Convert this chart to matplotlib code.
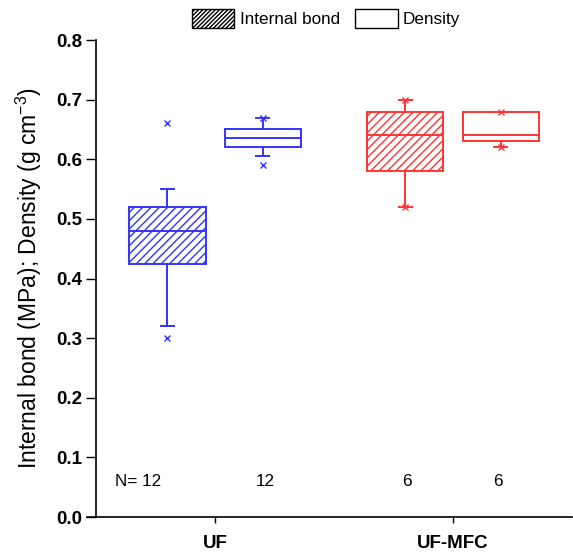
import matplotlib.pyplot as plt
from matplotlib.patches import Patch

plt.rcParams['font.family'] = ['Liberation Sans', 'DejaVu Sans']
plt.rcParams['mathtext.default'] = 'regular'
plt.rcParams['hatch.linewidth'] = 1.0

# =============================
# DATOS
# =============================
grupos = ["UF", "UF-MFC"]
series = ["Internal bond", "Density"]

# whislo, q1, med, q3, whishi
ib_cajas = [[0.32, 0.425, 0.48, 0.52, 0.55],
            [0.52, 0.58, 0.64, 0.68, 0.70]]
den_cajas = [[0.605, 0.62, 0.635, 0.65, 0.67],
             [0.62, 0.63, 0.64, 0.68, 0.68]]

# minimo / maximo (marcas x)
ib_extremos = [[0.30, 0.66], [0.52, 0.70]]
den_extremos = [[0.59, 0.67], [0.62, 0.68]]

n_ib = [12, 6]
n_den = [12, 6]

colores = ["#3333ff", "#ff3333"]

# =============================
# GRAFICA
# =============================
fig = plt.figure(figsize=(5.73, 5.52), dpi=100)
ax = fig.add_axes([87 / 573, 35 / 552, 485 / 573, 477 / 552])

# la posicion del eje izquierdo va primero (reinicia los ticks)
ax.spines["top"].set_visible(False)
ax.spines["right"].set_visible(False)
ax.spines["left"].set_position(("data", 0.5))
ax.spines["left"].set_linewidth(1.2)
ax.spines["bottom"].set_linewidth(1.2)


def stats_de(v):
    return {"whislo": v[0], "q1": v[1], "med": v[2], "q3": v[3], "whishi": v[4], "fliers": []}


for i, g in enumerate(grupos):
    c = colores[i]
    x0 = i + 1
    for dx, cajas, extremos, hatch in [(-0.2, ib_cajas, ib_extremos, "////"),
                                       (0.2, den_cajas, den_extremos, None)]:
        ax.bxp([stats_de(cajas[i])], positions=[x0 + dx], widths=0.32,
               patch_artist=True, showfliers=False, capwidths=0.055,
               boxprops=dict(facecolor="white", edgecolor=c, hatch=hatch, linewidth=1.4),
               medianprops=dict(color=c, linewidth=1.4),
               whiskerprops=dict(color=c, linewidth=1.4),
               capprops=dict(color=c, linewidth=1.4))
        ax.plot([x0 + dx] * 2, extremos[i], ls="none", marker="x",
                color=c, markersize=4, markeredgewidth=1.0)

# N por grupo
ax.text(0.676, 0.059, "N= %d" % n_ib[0], ha="center", va="center", fontsize=12.3)
ax.text(1.21, 0.059, "%d" % n_den[0], ha="center", va="center", fontsize=12.3)
ax.text(1.807, 0.059, "%d" % n_ib[1], ha="center", va="center", fontsize=12.3)
ax.text(2.19, 0.059, "%d" % n_den[1], ha="center", va="center", fontsize=12.3)

ax.set_xlim(0.462, 2.5)
ax.set_ylim(0, 0.8)
ax.set_xticks([1, 2])
ax.set_xticklabels(grupos, fontweight="bold", fontsize=13.5)
yt = [0.0, 0.1, 0.2, 0.3, 0.4, 0.5, 0.6, 0.7, 0.8]
ax.set_yticks(yt)
ax.set_yticklabels(["%.1f" % v for v in yt], fontweight="bold", fontsize=13.5)
ax.tick_params(axis="y", length=7, width=1, pad=3)
ax.tick_params(axis="x", length=4, width=1, pad=9)

ax.set_ylabel("Internal bond (MPa); Density (g cm$^{-3}$)", fontsize=16.5, labelpad=8.5)

handles = [Patch(facecolor="white", edgecolor="black", hatch="////////", linewidth=1),
           Patch(facecolor="white", edgecolor="black", linewidth=1)]
fig.legend(handles, series, loc="upper center", bbox_to_anchor=(326 / 573, 1.0),
           ncol=2, frameon=False, fontsize=12.3, handlelength=2.5, handleheight=1.3,
           columnspacing=0.9, handletextpad=0.3, borderaxespad=0.15)

plt.savefig("out.png", dpi=100)
